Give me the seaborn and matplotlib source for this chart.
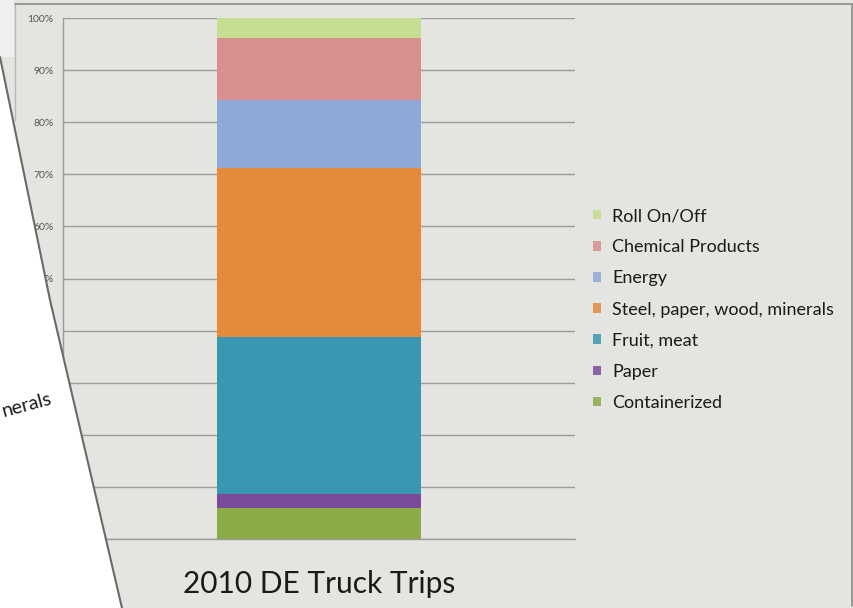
import numpy as np
import pandas as pd
import matplotlib
matplotlib.use("Agg")
import matplotlib.pyplot as plt
from matplotlib.patches import Patch, Polygon
from matplotlib.lines import Line2D
import seaborn as sns

# ---- data (share of 2010 DE truck trips, %) ----
categories = ["Containerized", "Paper", "Fruit, meat",
              "Steel, paper, wood, minerals", "Energy",
              "Chemical Products", "Roll On/Off"]
shares = [5.9, 2.7, 30.2, 32.4, 13.1, 11.9, 3.8]
bar_label = ["2010"]
colors = ["#8aab47", "#7b4a9a", "#3a97b1", "#e58a3b",
          "#8ea8d8", "#d88f8e", "#c5de92"]
ytick_vals = [0, 10, 20, 30, 40, 50, 60, 70, 80, 90, 100]
ytick_labels = ["0%", "10%", "20%", "30%", "40%", "50%", "60%", "70%",
                "80%", "90%", "100%"]
title = "2010 DE Truck Trips"

sns.set_theme(style="white")
plt.rcParams['font.family'] = ['Lato', 'DejaVu Sans']

W, H = 854, 608
bg = "#e4e4e0"
fig = plt.figure(figsize=(W / 100, H / 100), dpi=100, facecolor=bg)
ax = fig.add_axes([63 / W, 1 - 539 / H, (575 - 63) / W, (539 - 18) / H])
ax.set_facecolor(bg)

df = pd.DataFrame({"cat": categories, "share": shares, "color": colors})
df["cum"] = df["share"].cumsum()

# stacked bar: draw cumulative totals from the top down
for i in range(len(df) - 1, -1, -1):
    sns.barplot(x=bar_label, y=[df["cum"].iloc[i]], color=df["color"].iloc[i],
                saturation=1, width=0.4, ax=ax, zorder=3, linewidth=0)

ax.set_xlim(-0.5, 0.5)
ax.set_ylim(0, 100)
ax.set_yticks(ytick_vals)
ax.set_yticklabels(ytick_labels, fontsize=7.5, color="#555555")
ax.tick_params(axis="y", length=0, pad=7)
ax.set_xticks([-0.5, 0.5])
ax.set_xticklabels([])
ax.tick_params(axis="x", length=9, width=1, color="#9a9a9a", direction="out")
ax.set_xlabel("")
ax.set_ylabel("")
ax.yaxis.grid(True, color="#9c9c9c", linewidth=1)
ax.set_axisbelow(True)
for s in ["top", "right"]:
    ax.spines[s].set_visible(False)
for s in ["left", "bottom"]:
    ax.spines[s].set_color("#9a9a9a")
    ax.spines[s].set_linewidth(1)

ax.text(0.5, -0.086, title, transform=ax.transAxes, ha="center", va="center",
        fontsize=21.5, color="#1a1a1a")

handles = [Patch(facecolor=c, edgecolor="none", alpha=0.85) for c in colors][::-1]
labels = categories[::-1]
fig.legend(handles, labels, loc="upper left",
           bbox_to_anchor=(593 / W, 1 - 208 / H), frameon=False,
           fontsize=13, handlelength=0.45, handleheight=0.45,
           handletextpad=0.6, labelspacing=0.84, borderpad=0,
           borderaxespad=0, labelcolor="#1a1a1a")

# overlapping slide edge on the left
def fp(x, y):
    return (x / W, 1 - y / H)

poly = Polygon([fp(0, 57), fp(50, 300), fp(122, 608), fp(0, 608)],
               closed=True, transform=fig.transFigure,
               facecolor="white", edgecolor="none", zorder=5)
fig.add_artist(poly)
poly2 = Polygon([fp(0, 0), fp(14, 0), fp(14, 57), fp(0, 57)],
                closed=True, transform=fig.transFigure,
                facecolor="#f0f0ee", edgecolor="none", zorder=5)
fig.add_artist(poly2)
edge = Line2D([0 / W, 50 / W, 122 / W], [1 - 57 / H, 1 - 300 / H, 1 - 608 / H],
              transform=fig.transFigure, color="#6a6a6a", lw=1.5, zorder=6)
fig.add_artist(edge)
fig.add_artist(Line2D([15 / W, 15 / W], [1 - 4 / H, 1 - 120 / H],
                      transform=fig.transFigure, color="#b8b8b8", lw=1, zorder=6))
fig.add_artist(Line2D([15 / W, 852 / W], [1 - 4 / H, 1 - 4 / H],
                      transform=fig.transFigure, color="#8a8a8a", lw=1.2, zorder=6))
fig.add_artist(Line2D([852 / W, 852 / W], [1 - 4 / H, 1 - 606 / H],
                      transform=fig.transFigure, color="#8a8a8a", lw=1.2, zorder=6))
fig.text(27 / W, 1 - 405 / H, "nerals", rotation=15, ha="center", va="center",
         fontsize=14, color="#1a1a1a", zorder=7)

fig.savefig("out.png", dpi=100, facecolor=bg)
